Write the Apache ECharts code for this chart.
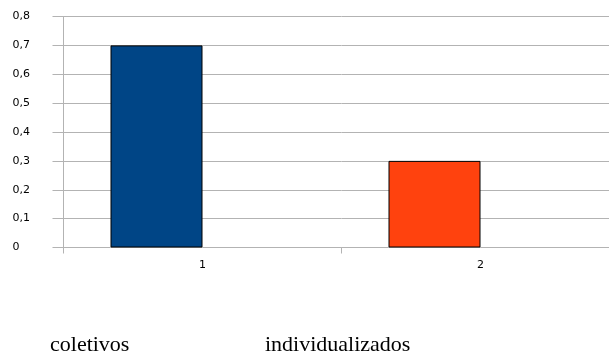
<!DOCTYPE html>
<html>
<head>
<meta charset="utf-8">
<style>
  html, body { margin: 0; padding: 0; background: #fff; overflow: hidden; }
  /* the plot runs past the right edge of the 609px page, so the canvas is a little wider */
  #chart { width: 620px; height: 356px; }
</style>
<script src="https://cdn.jsdelivr.net/npm/echarts@6/dist/echarts.min.js"></script>
</head>
<body>
<div id="chart"></div>
<script>
// Categories on the x axis and the value of each bar
const categories = ['1', '2'];
const values = [0.7, 0.3];
const barColors = ['#004586', '#ff420e'];
// Group names written under the chart
const groupNames = ['coletivos', 'individualizados'];

const gridColor = '#b3b3b3';

const chart = echarts.init(document.getElementById('chart'), null, { renderer: 'canvas' });

chart.setOption({
  animation: false,
  backgroundColor: '#ffffff',
  grid: { left: 63.5, right: 0.5, top: 16.5, bottom: 108.5, containLabel: false },
  xAxis: {
    type: 'category',
    data: categories,
    axisLine: { lineStyle: { color: gridColor, width: 1 } },
    axisTick: { show: true, length: 6, lineStyle: { color: gridColor } },
    axisLabel: {
      color: '#000',
      fontFamily: 'DejaVu Sans',
      fontSize: 11,
      margin: 12
    },
    splitLine: { show: false }
  },
  yAxis: {
    type: 'value',
    min: 0,
    max: 0.8,
    interval: 0.1,
    axisLine: { show: true, lineStyle: { color: gridColor, width: 1 } },
    axisTick: { show: true, length: 11, lineStyle: { color: gridColor } },
    splitLine: { show: true, lineStyle: { color: gridColor, width: 1 } },
    axisLabel: {
      color: '#000',
      fontFamily: 'DejaVu Sans',
      fontSize: 11,
      align: 'left',
      margin: 51,
      formatter: v => (Math.round(v * 10) / 10).toString().replace('.', ',')
    }
  },
  series: [
    {
      type: 'bar',
      data: values.map((v, i) => ({
        value: v,
        itemStyle: { color: barColors[i] }
      })),
      barWidth: 92,
      barGap: '0%',
      itemStyle: { borderColor: '#000', borderWidth: 1 }
    },
    {
      type: 'bar',
      data: categories.map(() => '-'),
      barWidth: 92,
      barGap: '0%'
    }
  ],
  graphic: groupNames.map((name, i) => ({
    type: 'text',
    left: [50, 265][i],
    top: 334,
    style: {
      text: name,
      fill: '#000',
      font: '22px "Liberation Serif", "Times New Roman", serif'
    }
  }))
});
</script>
</body>
</html>
